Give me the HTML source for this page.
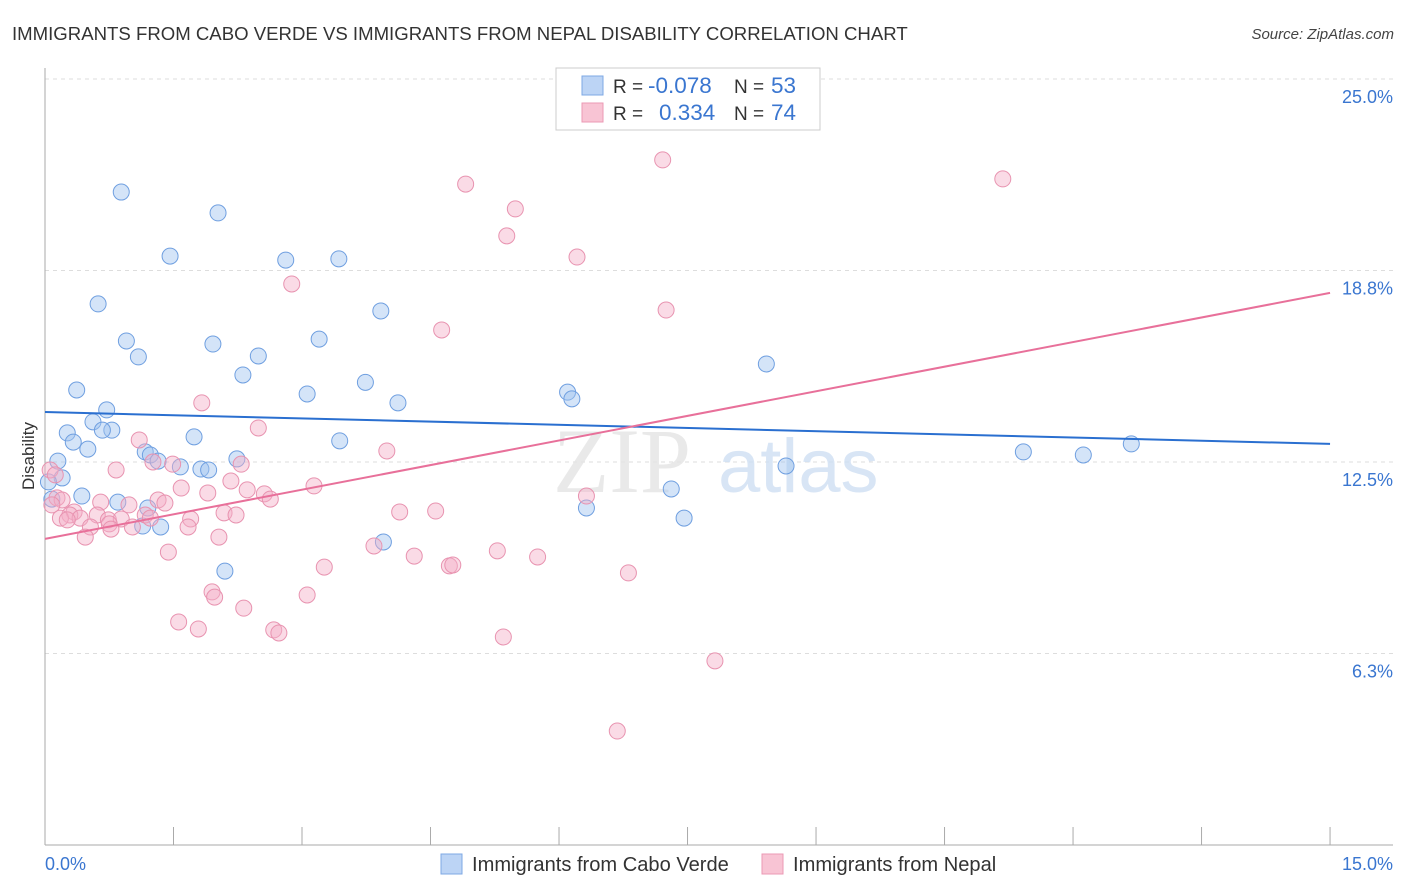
<!DOCTYPE html>
<html><head><meta charset="utf-8">
<style>
body{margin:0;background:#fff;font-family:"Liberation Sans",sans-serif;}
#wrap{position:relative;width:1406px;height:892px;overflow:hidden;}
</style></head>
<body>
<div id="wrap">
<svg id="chart" width="1406" height="892"></svg>
</div>
<script>
const caboX=[0.89,2.02,1.46,2.81,3.43,0.62,3.92,0.95,1.96,3.20,1.09,2.49,2.31,0.37,3.74,3.06,4.12,6.10,6.15,0.72,0.56,0.78,0.67,0.26,0.33,0.50,1.74,3.44,8.42,12.68,11.42,12.12,0.15,1.17,1.23,1.32,1.58,1.82,1.91,2.24,8.65,0.20,0.04,0.43,0.08,0.85,7.31,6.32,7.46,1.20,1.14,1.35,3.95,2.10];
const caboY=[21.31,20.63,19.22,19.09,19.13,17.66,17.43,16.45,16.35,16.51,15.93,15.96,15.34,14.85,15.10,14.72,14.43,14.78,14.56,14.20,13.81,13.54,13.54,13.45,13.15,12.92,13.32,13.19,15.70,13.09,12.83,12.73,12.53,12.83,12.73,12.53,12.34,12.27,12.24,12.60,12.37,11.98,11.85,11.39,11.29,11.19,11.62,11.00,10.67,11.00,10.41,10.38,9.89,8.94];
const nepalX=[7.21,4.91,11.18,5.49,5.39,6.21,2.88,7.25,4.63,1.83,2.49,1.10,3.99,0.06,0.12,0.83,1.26,1.49,2.29,2.17,1.59,1.90,2.36,2.56,2.63,3.14,6.32,0.65,0.98,1.32,1.40,0.14,0.20,0.08,0.34,0.29,0.41,0.61,0.74,0.89,1.17,1.23,1.70,2.09,2.23,1.67,1.02,0.75,0.53,0.47,0.18,0.26,0.77,4.14,4.56,2.03,3.84,1.44,4.31,5.28,5.75,4.72,4.76,3.26,6.81,1.95,1.98,3.06,2.32,1.56,1.79,2.67,2.73,5.35,7.82,6.68];
const nepalY=[22.36,21.57,21.74,20.76,19.88,19.19,18.31,17.46,16.81,14.43,13.61,13.22,12.86,12.24,12.08,12.24,12.50,12.43,12.43,11.88,11.65,11.49,11.59,11.46,11.29,11.72,11.39,11.19,11.10,11.26,11.16,11.33,11.26,11.10,10.87,10.77,10.67,10.77,10.61,10.64,10.77,10.67,10.64,10.84,10.77,10.38,10.38,10.48,10.38,10.05,10.67,10.61,10.31,10.87,10.90,10.05,9.76,9.56,9.43,9.60,9.40,9.11,9.14,9.07,8.88,8.26,8.09,8.16,7.73,7.28,7.05,7.02,6.92,6.79,6.01,3.72];
const caboTrend=[14.13,13.09];
const nepalTrend=[9.99,18.02];
const yTicks=[25.0,18.75,12.5,6.25];
const yTickLabels=["25.0%","18.8%","12.5%","6.3%"];
const xTicks=[0,1.5,3,4.5,6,7.5,9,10.5,12,13.5,15];

const X=v=>45+v*85.67;
const Y=v=>845-v*30.64;
const svg=document.getElementById('chart');
const NS='http://www.w3.org/2000/svg';
function mk(tag,attrs,parent){const e=document.createElementNS(NS,tag);for(const k in attrs)e.setAttribute(k,attrs[k]);(parent||svg).appendChild(e);return e;}
function txt(s,attrs,parent){const e=mk('text',attrs,parent);e.textContent=s;return e;}

let t=txt('IMMIGRANTS FROM CABO VERDE VS IMMIGRANTS FROM NEPAL DISABILITY CORRELATION CHART',{x:12,y:40,'font-size':18.6,fill:'#333'});

t=txt('Source: ZipAtlas.com',{x:1394,y:39,'font-size':15,fill:'#444','text-anchor':'end','font-style':'italic'});


yTicks.forEach((v,i)=>{
 let g=mk('line',{x1:45,x2:1393,y1:Y(v),y2:Y(v),stroke:'#ddd','stroke-dasharray':'4,4'});
 
 let l=txt(yTickLabels[i],{x:1393,y:Y(v)+24,'font-size':18,fill:'#3a76d0','text-anchor':'end'});
 
});
let a=mk('line',{x1:45,x2:45,y1:68,y2:845,stroke:'#aaa'});

a=mk('line',{x1:45,x2:1393,y1:845,y2:845,stroke:'#aaa'});

xTicks.forEach(v=>{let k=mk('line',{x1:X(v),x2:X(v),y1:827,y2:845,stroke:'#aaa'});
 });
t=txt('0.0%',{x:45,y:870,'font-size':18,fill:'#3a76d0'});

t=txt('15.0%',{x:1393,y:870,'font-size':18,fill:'#3a76d0','text-anchor':'end'});

t=txt('Disability',{x:34,y:456,'font-size':17,fill:'#333','text-anchor':'middle',transform:'rotate(-90 34 456)'});


t=txt('ZIP',{x:553,y:492,'font-size':92,fill:'#e4e4e4','font-family':'Liberation Serif',opacity:0.8});

t=txt('atlas',{x:718,y:492,'font-size':76,fill:'#cfdff3',opacity:0.8});


caboX.forEach((x,i)=>{let c=mk('circle',{cx:X(x),cy:Y(caboY[i]),r:8,fill:'rgba(160,195,240,0.45)',stroke:'#6f9fe0','stroke-width':1});
 });
nepalX.forEach((x,i)=>{let c=mk('circle',{cx:X(x),cy:Y(nepalY[i]),r:8,fill:'rgba(245,175,200,0.45)',stroke:'#e893b0','stroke-width':1});
 });

let ln=mk('line',{x1:X(0),x2:X(15),y1:Y(caboTrend[0]),y2:Y(caboTrend[1]),stroke:'#2a6fd0','stroke-width':2});

ln=mk('line',{x1:X(0),x2:X(15),y1:Y(nepalTrend[0]),y2:Y(nepalTrend[1]),stroke:'#e8709a','stroke-width':2});


let lg=mk('g',{});

mk('rect',{x:556,y:68,width:264,height:62,fill:'#fff',stroke:'#ccc'},lg);
mk('rect',{x:582,y:76,width:21,height:19,fill:'#bcd4f5',stroke:'#7ea8e4'},lg);
mk('rect',{x:582,y:103,width:21,height:19,fill:'#f8c4d4',stroke:'#eb9ab4'},lg);
txt('R = ',{x:613,y:93,'font-size':19,fill:'#333'},lg);
txt('-0.078',{x:648,y:93,'font-size':22.5,fill:'#3a76d0'},lg);
txt('N = ',{x:734,y:93,'font-size':19,fill:'#333'},lg);
txt('53',{x:771,y:93,'font-size':22.5,fill:'#3a76d0'},lg);
txt('R = ',{x:613,y:120,'font-size':19,fill:'#333'},lg);
txt('0.334',{x:659,y:120,'font-size':22.5,fill:'#3a76d0'},lg);
txt('N = ',{x:734,y:120,'font-size':19,fill:'#333'},lg);
txt('74',{x:771,y:120,'font-size':22.5,fill:'#3a76d0'},lg);

let b=mk('g',{});
mk('rect',{x:441,y:854,width:21,height:20,fill:'#bcd4f5',stroke:'#7ea8e4'},b);
txt('Immigrants from Cabo Verde',{x:472,y:871,'font-size':20.1,fill:'#333'},b);
b=mk('g',{});
mk('rect',{x:762,y:854,width:21,height:20,fill:'#f8c4d4',stroke:'#eb9ab4'},b);
txt('Immigrants from Nepal',{x:793,y:871,'font-size':20.1,fill:'#333'},b);
</script>
</body></html>
